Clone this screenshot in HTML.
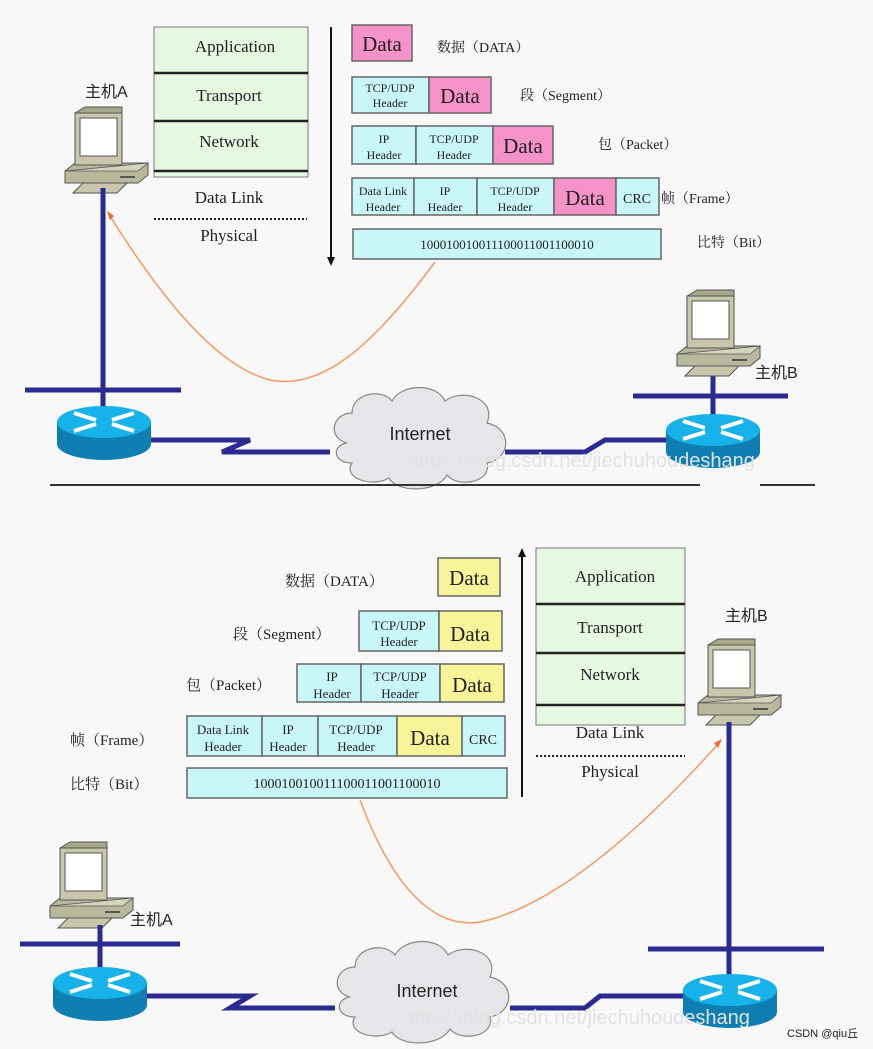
<!DOCTYPE html>
<html><head><meta charset="utf-8"><style>
html,body{margin:0;padding:0;background:#f8f8f8;}
svg{display:block}
text{font-family:"Liberation Serif","Noto Serif CJK SC",serif;fill:#222}
.s{font-family:"Liberation Sans","Noto Sans CJK SC",sans-serif}
.wm{font-family:"Liberation Sans",sans-serif;fill:#e2e2e2}
</style></head><body>
<svg width="873" height="1049" viewBox="0 0 873 1049" xmlns="http://www.w3.org/2000/svg">
<defs>
 <g id="pc">
  <polygon points="0,58 10,50 83,50 83,62 73,70 0,70" fill="#b9b79c" stroke="#555" stroke-width="1"/>
  <polygon points="0,58 73,58 83,50" fill="#d6d4bb" stroke="#555" stroke-width="0.8"/>
  <polygon points="10,0 20,-6 57,-6 57,45 47,52 10,52" fill="#a9a78a" stroke="#555"/>
  <rect x="10" y="0" width="47" height="52" fill="#c8c6ab" stroke="#555"/>
  <rect x="15" y="5" width="37" height="38" fill="#fff" stroke="#555"/>
  <line x1="55" y1="64" x2="70" y2="64" stroke="#555" stroke-width="2"/>
  <polygon points="8,80 18,70 62,70 52,80" fill="#c8c6ab" stroke="#555"/>
 </g>
 <g id="rt">
  <path d="M-47,0 L-47,22 A47,16 0 0 0 47,22 L47,0 Z" fill="#0f7fb2"/>
  <ellipse cx="0" cy="0" rx="47" ry="16" fill="#17b2ea"/>
  <g stroke="#fff" stroke-width="4" fill="none">
   <line x1="-30" y1="-9" x2="-8" y2="-2"/><line x1="30" y1="9" x2="8" y2="2"/>
   <line x1="30" y1="-9" x2="8" y2="-2"/><line x1="-30" y1="9" x2="-8" y2="2"/>
  </g>
 </g>
 <g id="cloud">
  <path d="M20,60 C0,55 5,30 25,30 C25,10 55,5 65,18 C75,0 110,0 118,18 C135,5 170,15 160,40 C185,45 185,75 160,80 C165,100 130,105 120,92 C110,110 70,110 62,95 C45,105 15,95 25,80 C5,80 5,62 20,60 Z" fill="#e4e6ea" stroke="#888" stroke-width="1.2"/>
 </g>
</defs>

<rect x="154" y="27" width="154" height="150" fill="#e6f8e2" stroke="#777"/>
<g stroke="#222" stroke-width="2.5"><line x1="154" y1="73" x2="308" y2="73"/><line x1="154" y1="121" x2="308" y2="121"/><line x1="154" y1="171" x2="308" y2="171"/></g>
<g font-size="17" text-anchor="middle">
<text x="235" y="52">Application</text><text x="229" y="101">Transport</text><text x="229" y="147">Network</text>
<text x="229" y="203">Data Link</text><text x="229" y="241">Physical</text></g>
<line x1="154" y1="219" x2="307" y2="219" stroke="#222" stroke-width="2" stroke-dasharray="2,2"/>
<line x1="331" y1="27" x2="331" y2="258" stroke="#111" stroke-width="2"/>
<polygon points="327,257 335,257 331,266" fill="#111"/>

<g stroke="#666" stroke-width="1.5">
<rect x="352" y="25" width="60" height="36" fill="#f592c8"/>
<rect x="352" y="77" width="77" height="36" fill="#c9f6f8"/><rect x="429" y="77" width="62" height="36" fill="#f592c8"/>
<rect x="352" y="126" width="64" height="38" fill="#c9f6f8"/><rect x="416" y="126" width="77" height="38" fill="#c9f6f8"/><rect x="493" y="126" width="60" height="38" fill="#f592c8"/>
<rect x="352" y="178" width="62" height="37" fill="#c9f6f8"/><rect x="414" y="178" width="63" height="37" fill="#c9f6f8"/><rect x="477" y="178" width="77" height="37" fill="#c9f6f8"/><rect x="554" y="178" width="62" height="37" fill="#f592c8"/><rect x="616" y="178" width="43" height="37" fill="#c9f6f8"/>
<rect x="353" y="229" width="308" height="30" fill="#c9f6f8"/>
</g>
<g text-anchor="middle">
<text x="382" y="51" font-size="21">Data</text>
<text x="390" y="92" font-size="12">TCP/UDP</text><text x="390" y="107" font-size="12">Header</text><text x="460" y="103" font-size="21">Data</text>
<text x="384" y="143" font-size="12">IP</text><text x="384" y="159" font-size="12">Header</text><text x="454" y="143" font-size="12">TCP/UDP</text><text x="454" y="159" font-size="12">Header</text><text x="523" y="153" font-size="21">Data</text>
<text x="383" y="195" font-size="12">Data Link</text><text x="383" y="211" font-size="12">Header</text><text x="445" y="195" font-size="12">IP</text><text x="445" y="211" font-size="12">Header</text><text x="515" y="195" font-size="12">TCP/UDP</text><text x="515" y="211" font-size="12">Header</text><text x="585" y="205" font-size="21">Data</text><text x="637" y="203" font-size="14">CRC</text>
<text x="507" y="249" font-size="13">100010010011100011001100010</text>
</g>
<g font-size="14">
<text x="437" y="52">数据（DATA）</text><text x="520" y="100">段（Segment）</text><text x="598" y="149">包（Packet）</text><text x="661" y="203">帧（Frame）</text><text x="697" y="247">比特（Bit）</text></g>

<text class="s" x="85" y="97" font-size="16" fill="#333">主机A</text>
<use href="#pc" x="65" y="113"/>
<line x1="103" y1="188" x2="103" y2="420" stroke="#2a2a90" stroke-width="5"/>
<line x1="25" y1="390" x2="181" y2="390" stroke="#2a2a90" stroke-width="5"/>
<polyline points="150,440 250,440 222,452 330,452" fill="none" stroke="#2a2a90" stroke-width="5"/>
<use href="#rt" x="104" y="422"/>
<use href="#cloud" x="327" y="383"/>
<text class="s" x="420" y="440" font-size="18" text-anchor="middle" fill="#111">Internet</text>
<polyline points="505,452 585,452 605,440 666,440" fill="none" stroke="#2a2a90" stroke-width="5"/>
<line x1="713" y1="370" x2="713" y2="425" stroke="#2a2a90" stroke-width="5"/>
<line x1="633" y1="396" x2="788" y2="396" stroke="#2a2a90" stroke-width="5"/>
<use href="#rt" x="713" y="430"/>
<use href="#pc" x="677" y="296"/>
<text class="s" x="755" y="378" font-size="16" fill="#333">主机B</text>
<path d="M435,262 C370,350 320,390 270,380 C210,365 150,280 108,213" fill="none" stroke="#f79a60" stroke-width="1.5"/>
<polygon points="107,211 114,216 110,220" fill="#f26b20"/>
<text class="wm" x="408" y="467" font-size="20">https://blog.csdn.net/jiechuhoudeshang</text>
<line x1="50" y1="485" x2="700" y2="485" stroke="#333" stroke-width="2"/>
<line x1="760" y1="485" x2="815" y2="485" stroke="#333" stroke-width="2"/>

<g stroke="#666" stroke-width="1.5">
<rect x="438" y="558" width="62" height="38" fill="#f8f49a"/>
<rect x="359" y="611" width="80" height="40" fill="#c9f6f8"/><rect x="439" y="611" width="63" height="40" fill="#f8f49a"/>
<rect x="297" y="664" width="64" height="38" fill="#c9f6f8"/><rect x="361" y="664" width="79" height="38" fill="#c9f6f8"/><rect x="440" y="664" width="64" height="38" fill="#f8f49a"/>
<rect x="187" y="716" width="75" height="40" fill="#c9f6f8"/><rect x="262" y="716" width="56" height="40" fill="#c9f6f8"/><rect x="318" y="716" width="79" height="40" fill="#c9f6f8"/><rect x="397" y="716" width="65" height="40" fill="#f8f49a"/><rect x="462" y="716" width="43" height="40" fill="#c9f6f8"/>
<rect x="187" y="768" width="320" height="30" fill="#c9f6f8"/>
</g>
<g text-anchor="middle">
<text x="469" y="585" font-size="21">Data</text>
<text x="399" y="630" font-size="13">TCP/UDP</text><text x="399" y="646" font-size="13">Header</text><text x="470" y="641" font-size="21">Data</text>
<text x="332" y="681" font-size="13">IP</text><text x="332" y="698" font-size="13">Header</text><text x="400" y="681" font-size="13">TCP/UDP</text><text x="400" y="698" font-size="13">Header</text><text x="472" y="692" font-size="21">Data</text>
<text x="223" y="734" font-size="13">Data Link</text><text x="223" y="751" font-size="13">Header</text><text x="288" y="734" font-size="13">IP</text><text x="288" y="751" font-size="13">Header</text><text x="356" y="734" font-size="13">TCP/UDP</text><text x="356" y="751" font-size="13">Header</text><text x="430" y="745" font-size="21">Data</text><text x="483" y="744" font-size="14">CRC</text>
<text x="347" y="788" font-size="14">100010010011100011001100010</text>
</g>
<g font-size="15">
<text x="285" y="586">数据（DATA）</text><text x="233" y="639">段（Segment）</text><text x="186" y="690">包（Packet）</text><text x="70" y="745">帧（Frame）</text><text x="70" y="789">比特（Bit）</text></g>

<line x1="522" y1="797" x2="522" y2="556" stroke="#111" stroke-width="2"/>
<polygon points="518,557 526,557 522,548" fill="#111"/>
<rect x="536" y="548" width="149" height="177" fill="#e6f8e2" stroke="#777"/>
<g stroke="#222" stroke-width="2.5"><line x1="536" y1="604" x2="685" y2="604"/><line x1="536" y1="653" x2="685" y2="653"/><line x1="536" y1="705" x2="685" y2="705"/></g>
<g font-size="17" text-anchor="middle">
<text x="615" y="582">Application</text><text x="610" y="633">Transport</text><text x="610" y="680">Network</text>
<text x="610" y="738">Data Link</text><text x="610" y="777">Physical</text></g>
<line x1="536" y1="756" x2="685" y2="756" stroke="#222" stroke-width="2" stroke-dasharray="2,2"/>

<text class="s" x="725" y="621" font-size="16" fill="#333">主机B</text>
<use href="#pc" x="698" y="645"/>
<line x1="729" y1="722" x2="729" y2="985" stroke="#2a2a90" stroke-width="5"/>
<line x1="648" y1="949" x2="824" y2="949" stroke="#2a2a90" stroke-width="5"/>
<path d="M360,800 C390,880 430,930 480,922 C560,905 650,820 720,742" fill="none" stroke="#f79a60" stroke-width="1.5"/>
<polygon points="722,739 714,743 718,748" fill="#f26b20"/>

<use href="#pc" x="50" y="848"/>
<text class="s" x="130" y="925" font-size="16" fill="#333">主机A</text>
<line x1="100" y1="925" x2="100" y2="980" stroke="#2a2a90" stroke-width="5"/>
<line x1="20" y1="944" x2="180" y2="944" stroke="#2a2a90" stroke-width="5"/>
<polyline points="145,996 250,996 230,1008 335,1008" fill="none" stroke="#2a2a90" stroke-width="5"/>
<use href="#rt" x="100" y="983"/>
<use href="#cloud" x="330" y="937"/>
<text class="s" x="427" y="997" font-size="18" text-anchor="middle" fill="#111">Internet</text>
<polyline points="510,1008 585,1008 600,996 685,996" fill="none" stroke="#2a2a90" stroke-width="5"/>
<use href="#rt" x="730" y="990"/>
<text class="wm" x="403" y="1024" font-size="20">https://blog.csdn.net/jiechuhoudeshang</text>
<text class="s" x="787" y="1037" font-size="11" fill="#444">CSDN @qiu丘</text>
</svg>
</body></html>
